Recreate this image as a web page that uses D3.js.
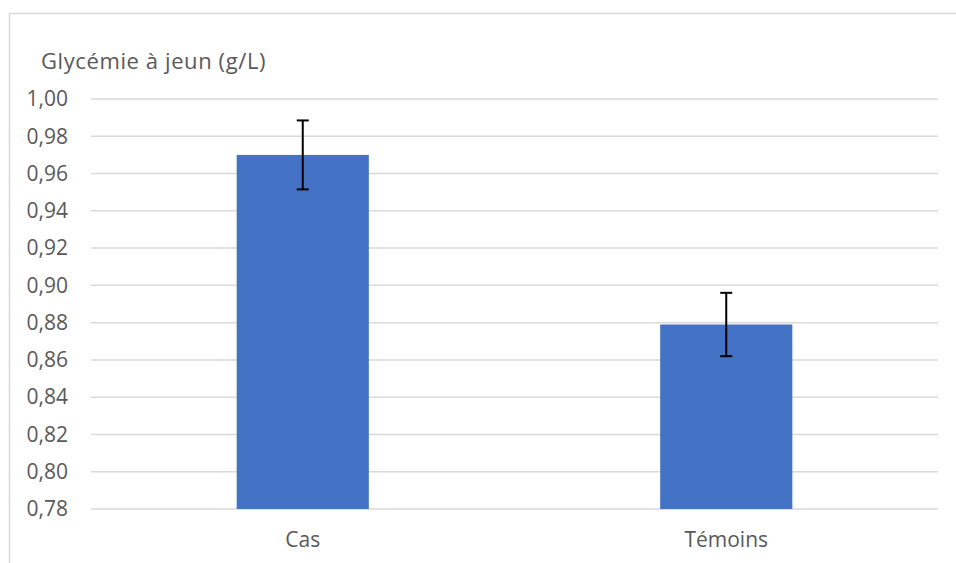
<!DOCTYPE html>
<html>
<head>
<meta charset="utf-8">
<script src="https://cdn.jsdelivr.net/npm/d3@7"></script>
<style>
  body { margin: 0; background: #fff; }
  svg text { font-family: "Open Sans", "Noto Sans", sans-serif; fill: #595959; }
</style>
</head>
<body>
<div id="chart"></div>
<script>
// donnees
var categories = ["Cas", "Témoins"];
var moyennes = [0.970, 0.879];
var erreurs = [0.0185, 0.017];
var ticksY = [0.78, 0.80, 0.82, 0.84, 0.86, 0.88, 0.90, 0.92, 0.94, 0.96, 0.98, 1.00];
var titreY = "Glycémie à jeun (g/L)";

var W = 956, H = 563;
var margin = {top: 99, right: 18, bottom: 54, left: 91},
    width = 938 - margin.left,
    height = 509 - margin.top;

var svg = d3.select("#chart").append("svg")
  .attr("width", W)
  .attr("height", H);

// cadre du graphique (seulement haut et gauche visibles)
svg.append("path")
  .attr("d", "M9.5," + H + "V13.5H" + W)
  .attr("fill", "none")
  .attr("stroke", "#d9d9d9")
  .attr("stroke-width", 1.5);

var g = svg.append("g")
  .attr("transform", "translate(" + margin.left + "," + margin.top + ")");

var x = d3.scaleBand()
  .domain(categories)
  .range([0, width])
  .paddingInner(0.688)
  .paddingOuter(0.344);

var y = d3.scaleLinear()
  .domain([0.78, 1.00])
  .range([height, 0]);

// grille horizontale
g.append("g")
  .selectAll("line")
  .data(ticksY)
  .join("line")
  .attr("x1", 0)
  .attr("x2", width)
  .attr("y1", d => y(d))
  .attr("y2", d => y(d))
  .attr("stroke", "#d9d9d9")
  .attr("stroke-width", 1.5);

// axe Y (etiquettes seulement)
var axeY = g.append("g")
  .call(d3.axisLeft(y).tickValues(ticksY).tickSize(0).tickPadding(23)
    .tickFormat(d => d3.format(".2f")(d).replace(".", ",")));
axeY.select(".domain").remove();
axeY.selectAll("text").style("font-size", "21px").attr("fill", "#595959");

// axe X
var axeX = g.append("g")
  .attr("transform", "translate(0," + height + ")")
  .call(d3.axisBottom(x).tickSize(0).tickPadding(23));
axeX.select(".domain").remove();
axeX.selectAll("text").style("font-size", "21px").attr("fill", "#595959");

// barres
var donnees = categories.map((c, i) => ({cat: c, val: moyennes[i], err: erreurs[i]}));

g.append("g")
  .selectAll("rect")
  .data(donnees)
  .join("rect")
  .attr("x", d => x(d.cat))
  .attr("y", d => y(d.val))
  .attr("width", x.bandwidth())
  .attr("height", d => height - y(d.val))
  .attr("fill", "#4472C4");

// barres d'erreur
var eb = g.append("g")
  .attr("stroke", "#000")
  .attr("stroke-width", 2)
  .selectAll("g")
  .data(donnees)
  .join("g")
  .attr("transform", d => "translate(" + (x(d.cat) + x.bandwidth() / 2) + ",0)");

eb.append("line")
  .attr("y1", d => y(d.val + d.err))
  .attr("y2", d => y(d.val - d.err));
eb.append("line")
  .attr("x1", -6).attr("x2", 6)
  .attr("y1", d => y(d.val + d.err))
  .attr("y2", d => y(d.val + d.err));
eb.append("line")
  .attr("x1", -6).attr("x2", 6)
  .attr("y1", d => y(d.val - d.err))
  .attr("y2", d => y(d.val - d.err));

// titre de l'axe
svg.append("text")
  .attr("x", 41)
  .attr("y", 69)
  .style("font-size", "22px")
  .style("letter-spacing", "0.6px")
  .text(titreY);
</script>
</body>
</html>
